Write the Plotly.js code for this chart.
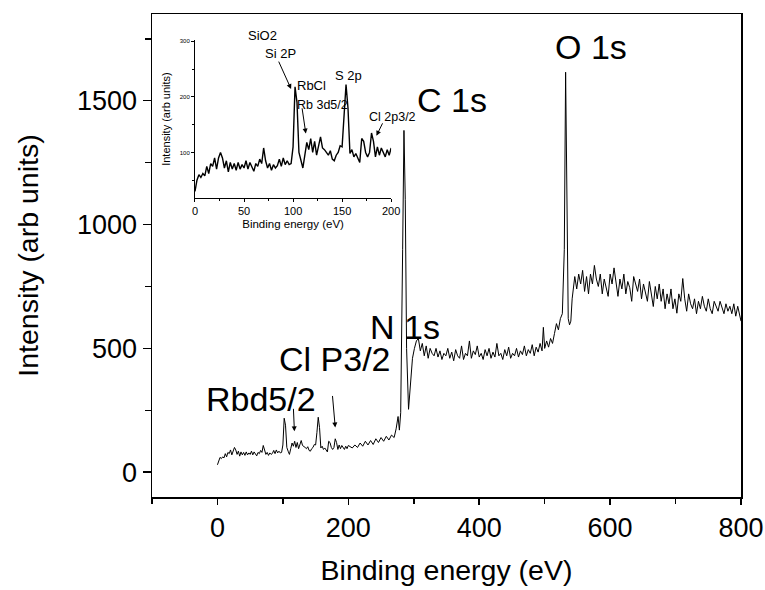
<!DOCTYPE html>
<html>
<head>
<meta charset="utf-8">
<script src="https://cdn.plot.ly/plotly-3.0.1.min.js"></script>
<style>html,body{margin:0;padding:0;background:#fff;}#chart{width:765px;height:590px;}</style>
</head>
<body>
<div id="chart"></div>
<script>
// XPS survey, low binding-energy part (0-200 eV)
const energyLow = [0,2,4,6,8,10,12,14,16,18,20,22,24,26,28,30,32,34,36,38,40,42,44,46,48,50,52,54,56,58,60,62,64,66,68,70,72,74,76,78,80,82,84,86,88,90,92,94,96,98,100,102,104,106,108,110,112,114,116,118,120,122,124,126,128,130,132,134,136,138,140,142,144,146,148,150,152,154,156,158,160,162,164,166,168,170,172,174,176,178,180,182,184,186,188,190,192,194,196,198,200];
const countsLow = [30,50,60,55,62,58,75,62,80,75,90,70,90,100,90,72,85,65,82,70,80,68,82,70,78,72,85,70,82,72,66,80,75,88,80,108,85,72,80,68,78,72,76,88,75,90,78,85,78,80,110,218,190,100,85,72,95,118,105,125,100,120,95,110,128,108,105,100,95,103,88,85,95,100,112,110,160,222,180,98,105,92,98,90,82,125,120,100,92,100,135,120,92,110,95,108,100,92,105,95,108];
// high binding-energy part (200-800 eV)
const energyHigh = [202,206,210,214,218,222,226,230,234,238,242,246,250,254,258,262,266,270,273,276,278,280,283,285,287,289,292,295,298,301,304,307,310,313,316,319,322,325,328,331,334,337,340,343,346,349,352,355,358,361,364,367,370,373,376,379,382,385,388,391,394,397,400,403,406,409,412,415,418,421,424,427,430,433,436,439,442,445,448,451,454,457,460,463,466,469,472,475,478,481,484,487,490,493,496,498,500,503,506,509,512,515,518,521,524,527,530,532,534,536,538,540,542,544,546,549,552,555,558,561,564,567,570,573,576,579,582,585,588,591,594,597,600,603,606,609,612,615,618,621,624,627,630,633,636,639,642,645,648,651,654,657,660,663,666,669,672,675,678,681,684,687,690,693,696,699,702,705,708,711,714,717,720,723,726,729,732,735,738,741,744,747,750,753,756,759,762,765,768,771,774,777,780,783,786,789,792,795,798,800];
const countsHigh = [105,98,110,100,118,105,125,110,128,112,135,120,140,125,145,130,150,140,175,225,170,240,900,1380,1100,500,254,350,460,500,530,540,490,520,470,510,460,500,480,470,500,465,490,455,480,470,500,460,485,450,495,470,460,510,455,480,470,530,460,490,475,510,465,480,455,495,470,500,460,485,465,520,470,480,455,495,470,505,460,480,470,500,465,490,475,510,470,495,480,515,470,505,485,520,490,585,500,530,505,540,520,560,600,575,620,640,900,1615,1000,620,595,610,700,760,790,740,800,760,815,730,790,720,800,760,835,780,750,800,720,780,740,710,800,760,825,760,710,780,740,800,720,770,745,690,790,760,730,780,700,760,720,690,770,710,669,750,700,760,690,740,660,720,680,740,660,700,642,720,690,782,700,650,720,680,660,700,640,690,660,710,670,650,700,660,640,690,670,650,690,660,640,680,650,670,640,680,630,670,640,610];

const energy = energyLow.concat(energyHigh);
const counts = countsLow.concat(countsHigh);

const FONT = "Liberation Sans, Arial, sans-serif";

const traces = [
  {x: energy, y: counts, type: 'scatter', mode: 'lines', line: {color: '#000', width: 1}, xaxis: 'x', yaxis: 'y', hoverinfo: 'skip'},
  {x: energyLow, y: countsLow, type: 'scatter', mode: 'lines', line: {color: '#000', width: 1.4}, xaxis: 'x2', yaxis: 'y2', hoverinfo: 'skip'}
];

function txt(t, x, y, size, ref) {
  return {text: t, x: x, y: y, xref: ref[0], yref: ref[1], xanchor: 'center', yanchor: 'middle', showarrow: false, font: {family: FONT, size: size, color: '#000'}};
}
function arr(x, y, ax, ay, ref) {
  return {text: '', x: x, y: y, ax: ax, ay: ay, xref: ref[0], yref: ref[1], axref: ref[0], ayref: ref[1], showarrow: true, arrowhead: 2, arrowsize: 1, arrowwidth: 1, arrowcolor: '#000'};
}
const M = ['x', 'y'], I = ['x2', 'y2'], P = ['paper', 'paper'];

const annotations = [
  txt('O 1s', 571, 1718, 34, M),
  txt('C 1s', 359, 1504, 34, M),
  txt('N 1s', 287, 585, 34, M),
  txt('Cl P3/2', 179, 456, 34, M),
  txt('Rbd5/2', 67, 294, 34, M),
  arr(117.6, 165, 116, 262, M),
  arr(180, 181, 175.6, 314, M),
  txt('SiO2', 0.1868, 0.9545, 13, P),
  txt('Si 2P', 86.7, 277, 13, I),
  arr(98, 214, 84.7, 266, I),
  txt('RbCl', 119, 221, 13, I),
  txt('Rb 3d5/2', 130, 186, 12.5, I),
  arr(113, 134, 109, 182, I),
  txt('S 2p', 157, 237.5, 13, I),
  txt('Cl 2p3/2', 0.409, 0.787, 12.5, P),
  arr(185, 130, 192, 155, I)
];

const layout = {
  width: 765, height: 590,
  margin: {l: 152, r: 24, t: 14, b: 93},
  paper_bgcolor: '#fff', plot_bgcolor: '#fff',
  showlegend: false,
  font: {family: FONT, color: '#000'},
  xaxis: {
    domain: [0, 1], range: [-100, 800], tick0: 0, dtick: 200,
    showgrid: false, zeroline: false, showline: true, mirror: true, linecolor: '#000', linewidth: 1.5,
    ticks: 'outside', ticklen: 6, tickwidth: 1.5, tickcolor: '#000',
    minor: {dtick: 100, tick0: 0, ticks: 'outside', ticklen: 5, tickwidth: 1.5, tickcolor: '#000'},
    tickfont: {family: FONT, size: 27, color: '#000'},
    title: {text: 'Binding energy (eV)', font: {family: FONT, size: 28.5, color: '#000'}, standoff: 18}
  },
  yaxis: {
    domain: [0, 1], range: [-100, 1850], tick0: 0, dtick: 500,
    showgrid: false, zeroline: false, showline: true, mirror: true, linecolor: '#000', linewidth: 1.5,
    ticks: 'outside', ticklen: 8, tickwidth: 1.5, tickcolor: '#000',
    minor: {dtick: 250, tick0: 0, ticks: 'outside', ticklen: 6, tickwidth: 1.5, tickcolor: '#000'},
    tickfont: {family: FONT, size: 27, color: '#000'},
    title: {text: 'Intensity (arb units)', font: {family: FONT, size: 28.5, color: '#000'}, standoff: 30}
  },
  xaxis2: {
    domain: [0.073, 0.406], anchor: 'y2', range: [0, 200], tick0: 0, dtick: 50,
    showgrid: false, zeroline: false, showline: true, linecolor: '#000', linewidth: 1,
    ticks: 'outside', ticklen: 3, tickwidth: 1, tickcolor: '#000',
    minor: {dtick: 25, ticks: 'outside', ticklen: 2, tickwidth: 1, tickcolor: '#000'},
    tickfont: {family: FONT, size: 11, color: '#000'},
    title: {text: 'Binding energy (eV)', font: {family: FONT, size: 11.5, color: '#000'}, standoff: 3}
  },
  yaxis2: {
    domain: [0.619, 0.946], anchor: 'x2', range: [18, 302], tick0: 0, dtick: 100,
    showgrid: false, zeroline: false, showline: true, linecolor: '#000', linewidth: 1,
    ticks: 'outside', ticklen: 3, tickwidth: 1, tickcolor: '#000',
    minor: {dtick: 50, ticks: 'outside', ticklen: 2, tickwidth: 1, tickcolor: '#000'},
    tickfont: {family: FONT, size: 6, color: '#000'},
    title: {text: 'Intensity (arb units)', font: {family: FONT, size: 11, color: '#000'}, standoff: 6}
  },
  annotations: annotations
};

Plotly.newPlot('chart', traces, layout, {staticPlot: true, displayModeBar: false});
</script>
</body>
</html>
